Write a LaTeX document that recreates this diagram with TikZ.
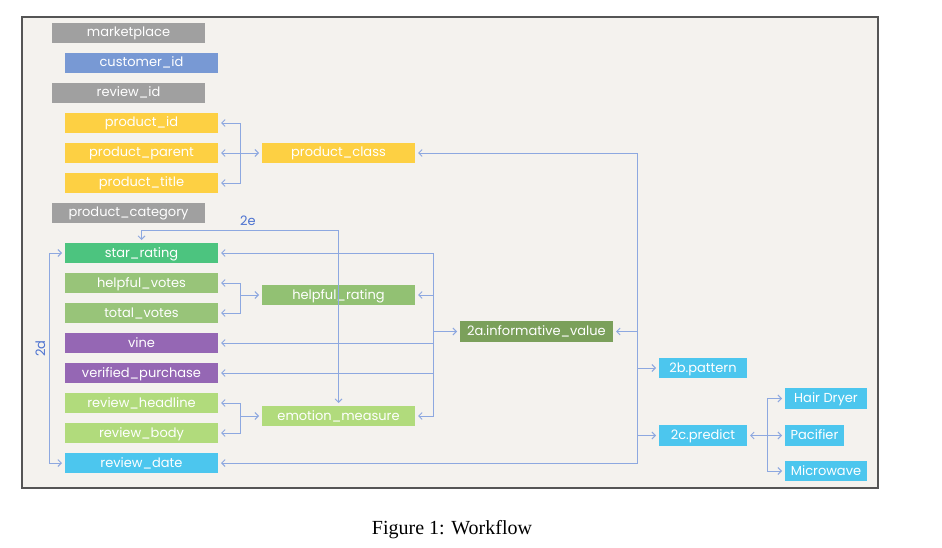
\documentclass[tikz,border=0pt]{standalone}
\usepackage{fontspec}
\setmainfont{Liberation Serif}
\newfontfamily\boxfont{Poppins}
\usepackage{xcolor}
\usetikzlibrary{arrows.meta, positioning, calc}

\definecolor{paper}{HTML}{F4F2EE}
\definecolor{framegray}{HTML}{555555}
\definecolor{attrgray}{HTML}{A0A0A0}
\definecolor{attrblue}{HTML}{7899D4}
\definecolor{attryellow}{HTML}{FDD043}
\definecolor{attrgreen}{HTML}{4CC47F}
\definecolor{attrolive}{HTML}{98C479}
\definecolor{rateolive}{HTML}{92C173}
\definecolor{attrpurple}{HTML}{9567B4}
\definecolor{attrlight}{HTML}{B1DB7C}
\definecolor{attrcyan}{HTML}{4CC6EE}
\definecolor{infogreen}{HTML}{7BA05B}
\definecolor{linkblue}{HTML}{8DA8E0}
\definecolor{labelblue}{HTML}{4C72D0}

\begin{document}
\begin{tikzpicture}[
    x=1pt, y=-1pt,
    node distance=10pt and 44pt,
    box/.style={rectangle, fill=#1, text=white, minimum width=153pt, minimum height=20pt, inner sep=0pt, outer sep=0pt, text height=10pt, text depth=2pt, font=\boxfont\fontsize{13}{15}\selectfont},
    link/.style={draw=linkblue, line width=0.9pt},
    arrow/.style={link, -{Straight Barb[length=3.5pt, width=7pt]}, shorten >=3pt},
    twoway/.style={link, {Straight Barb[length=3.5pt, width=7pt]}-{Straight Barb[length=3.5pt, width=7pt]}, shorten >=3pt, shorten <=3pt},
    tag/.style={text=labelblue, font=\boxfont\fontsize{13}{15}\selectfont}
]
    \useasboundingbox (0,0) rectangle (942,548);
    \draw[draw=framegray, line width=1.5pt, fill=paper] (22,17) rectangle (878,488);

    % left column: the raw attributes
    \node [box=attrgray] (marketplace) at (128.5,33) {marketplace};
    \node [box=attrblue, below=of marketplace, xshift=13pt] (customer_id) {customer\_id};
    \node [box=attrgray, below=of customer_id, xshift=-13pt] (review_id) {review\_id};
    \node [box=attryellow, below=of review_id, xshift=13pt] (product_id) {product\_id};
    \node [box=attryellow, below=of product_id] (product_parent) {product\_parent};
    \node [box=attryellow, below=of product_parent] (product_title) {product\_title};
    \node [box=attrgray, below=of product_title, xshift=-13pt] (product_category) {product\_category};
    \node [box=attrgreen, below=20pt of product_category, xshift=13pt] (star_rating) {star\_rating};
    \node [box=attrolive, below=of star_rating] (helpful_votes) {helpful\_votes};
    \node [box=attrolive, below=of helpful_votes] (total_votes) {total\_votes};
    \node [box=attrpurple, below=of total_votes] (vine) {vine};
    \node [box=attrpurple, below=of vine] (verified_purchase) {verified\_purchase};
    \node [box=attrlight, below=of verified_purchase] (review_headline) {review\_headline};
    \node [box=attrlight, below=of review_headline] (review_body) {review\_body};
    \node [box=attrcyan, below=of review_body] (review_date) {review\_date};

    % derived measures
    \node [box=attryellow, right=of product_parent] (product_class) {product\_class};
    \node [box=rateolive, right=of helpful_votes, yshift=-12pt] (helpful_rating) {helpful\_rating};
    \node [box=attrlight, right=of review_headline, yshift=-13pt] (emotion_measure) {emotion\_measure};
    \node [box=infogreen, minimum height=21pt] (informative) at (536.5,331.5) {2a.informative\_value};
    \node [box=attrcyan, minimum width=88pt] (pattern) at (703,368) {2b.pattern};
    \node [box=attrcyan, minimum width=88pt, minimum height=21pt] (predict) at (703,435.5) {2c.predict};
    \node [box=attrcyan, minimum width=82pt, minimum height=21pt] (hair_dryer) at (826,398.5) {Hair Dryer};
    \node [box=attrcyan, minimum width=59pt, minimum height=21pt] (pacifier) at (814.5,435.5) {Pacifier};
    \node [box=attrcyan, minimum width=82pt] (microwave) at (826,471) {Microwave};

    % junctions
    \coordinate (jproduct) at ($(product_parent.east)!0.5!(product_class.west)$);
    \coordinate (jvotes) at (jproduct |- helpful_rating);
    \coordinate (jreview) at (jproduct |- emotion_measure);
    \coordinate (jinfo) at ($(helpful_rating.east |- informative)+(18,0)$);
    \coordinate (jout) at ($(informative.east)+(24,0)$);
    \coordinate (jpredict) at ($(predict.east)+(20,0)$);

    \draw [arrow] (jproduct) |- (product_id);
    \draw [arrow] (jproduct) |- (product_title);
    \draw [arrow] (jproduct) -- (product_parent);
    \draw [arrow] (jproduct) -- (product_class);

    \draw [arrow] (jvotes) |- (helpful_votes);
    \draw [arrow] (jvotes) |- (total_votes);
    \draw [arrow] (jvotes) -- (helpful_rating);

    \draw [arrow] (jreview) |- (review_headline);
    \draw [arrow] (jreview) |- (review_body);
    \draw [arrow] (jreview) -- (emotion_measure);

    \draw [arrow] (jinfo) |- (star_rating);
    \draw [arrow] (jinfo) |- (helpful_rating);
    \draw [arrow] (jinfo) |- (vine);
    \draw [arrow] (jinfo) |- (verified_purchase);
    \draw [arrow] (jinfo) |- (emotion_measure);
    \draw [arrow] (jinfo) -- (informative);

    \draw [arrow] (jout) |- (product_class);
    \draw [arrow] (jout) -- (informative);
    \draw [arrow] (jout) |- (pattern);
    \draw [arrow] (jout) |- (predict);
    \draw [arrow] (jout) |- (review_date);

    \draw [arrow] (jpredict) -- (predict);
    \draw [arrow] (jpredict) -- (pacifier);
    \draw [arrow] (jpredict) |- (hair_dryer);
    \draw [arrow] (jpredict) |- (microwave);

    \draw [twoway] (star_rating.north) -- ++(0,-13) -| (emotion_measure.north) node[tag, pos=0.27, above=1pt] (e2) {2e};
    \draw [twoway] (star_rating.west) -- ++(-16,0) |- (review_date.west) node[tag, pos=0.23, rotate=90, above=1pt] (d2) {2d};

    \node (caption) at (452,530) {\fontsize{20}{24}\selectfont Figure 1: Workflow};
\end{tikzpicture}
\end{document}
